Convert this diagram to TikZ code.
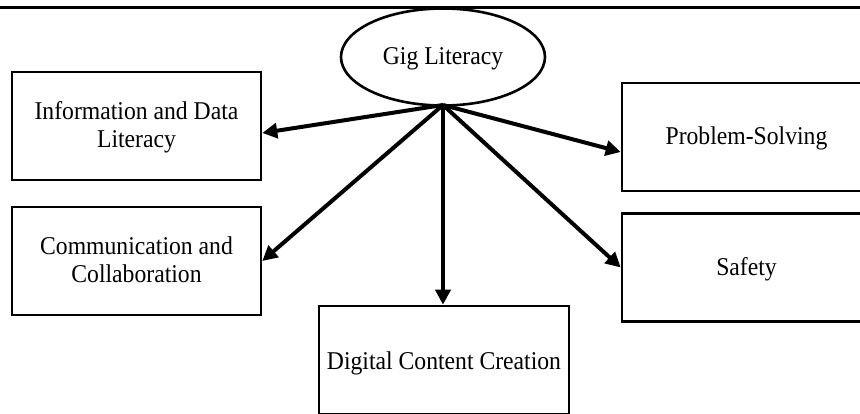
\documentclass[tikz,border=0pt]{standalone}
\usepackage{fontspec}
\setmainfont[FakeStretch=0.925]{Liberation Serif}
\usetikzlibrary{arrows.meta,shapes.geometric}
\begin{document}
\begin{tikzpicture}[x=1pt,y=-1pt,
  every node/.style={font=\fontsize{25.6}{27.5}\selectfont},
  one/.style={text height=16pt,text depth=0pt},
  two/.style={text height=43pt,text depth=0pt},
  box/.style={draw,line width=2.6pt,minimum width=249pt,minimum height=108pt,align=center,inner sep=0pt},
  arr/.style={line width=4pt,-{Triangle[length=15pt,width=15pt]}}]
\useasboundingbox (0,0) rectangle (860,414);
\draw[line width=2.6pt] (0,7.3) -- (860,7.3);
\node[ellipse,draw,one,line width=2.6pt,minimum width=204pt,minimum height=97pt,inner sep=0pt] (gig) at (443,57) {Gig Literacy};
\coordinate (o) at (443,105);
\node[box,two] (info) at (136.5,126) {Information and Data\\Literacy};
\node[box,two] (comm) at (136.5,261) {Communication and\\Collaboration};
\node[box,minimum width=250pt,text height=18pt,text depth=0pt] (dig) at (444,360) {Digital Content Creation};
\node[box,one] (prob) at (746.5,137) {Problem-Solving};
\node[box,one] (safe) at (746.5,267.5) {Safety};
\draw[arr] (o) -- ([yshift=-7pt]info.east);
\draw[arr] (o) -- (comm.east);
\draw[arr] (o) -- (o |- dig.north);
\draw[arr] (o) -- ([yshift=-15pt]prob.west);
\draw[arr] (o) -- (safe.west);
\end{tikzpicture}
\end{document}
